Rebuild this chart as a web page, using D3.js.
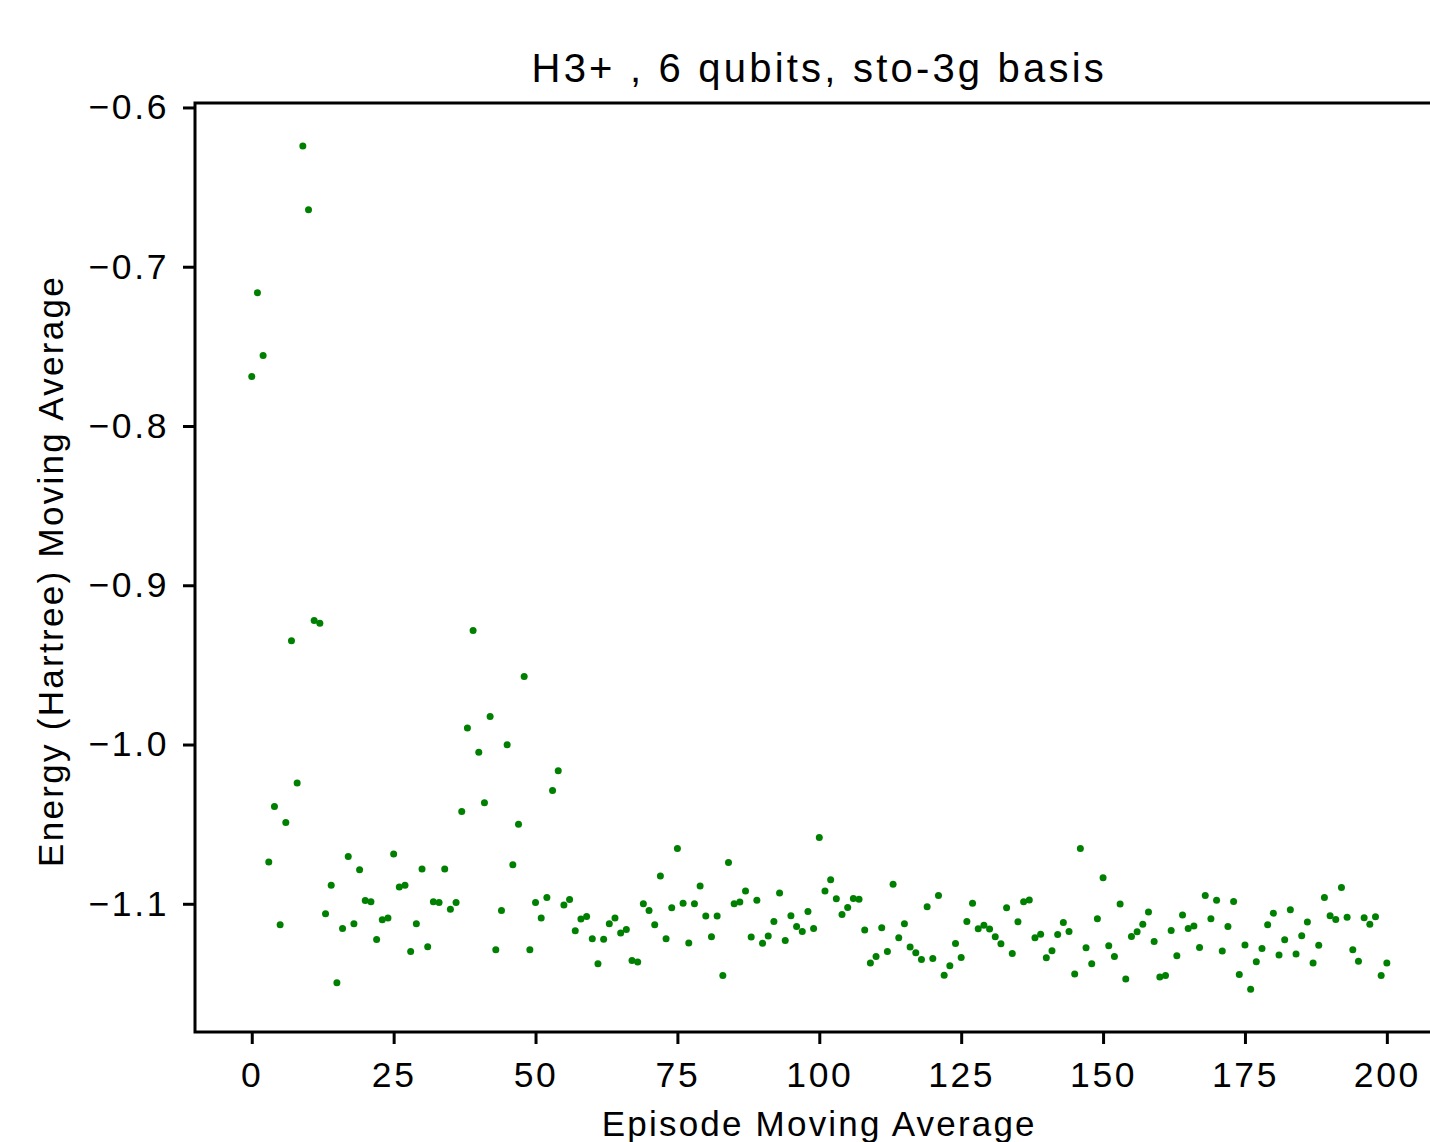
<!DOCTYPE html>
<html><head><meta charset="utf-8">
<script src="https://cdn.jsdelivr.net/npm/d3@7"></script>
<style>
html,body{margin:0;padding:0;background:#fff;}
text{font-family:"Liberation Sans",Arial,sans-serif;fill:#000;}
</style></head>
<body><svg id="chart" width="1430" height="1142"></svg>
<script>
const title = "H3+ , 6 qubits, sto-3g basis";
const xLabel = "Episode Moving Average";
const yLabel = "Energy (Hartree) Moving Average";
const xTicks = [0,25,50,75,100,125,150,175,200];
const yTicks = [-0.6,-0.7,-0.8,-0.9,-1.0,-1.1];
const energy = [
-0.769,-0.7163,-0.7557,-1.0738,-1.0389,-1.1132,-1.049,-0.9349,-1.0242,-0.6242,
-0.6643,-0.9221,-0.9238,-1.1062,-1.0884,-1.1495,-1.1155,-1.0703,-1.1125,-1.0787,
-1.0979,-1.0987,-1.1224,-1.110,-1.109,-1.0688,-1.0895,-1.0883,-1.130,-1.1125,
-1.0782,-1.127,-1.0987,-1.0992,-1.0782,-1.1035,-1.0992,-1.042,-0.9897,-0.9284,
-1.0048,-1.0366,-0.9824,-1.1289,-1.1042,-1.0002,-1.0755,-1.05,-0.9573,-1.1289,
-1.0992,-1.109,-1.096,-1.0289,-1.0165,-1.1008,-1.0973,-1.117,-1.1096,-1.108,
-1.122,-1.1377,-1.1222,-1.1125,-1.1089,-1.1184,-1.1161,-1.1356,-1.1366,-1.1000,
-1.1042,-1.1132,-1.0826,-1.122,-1.1025,-1.0653,-1.0996,-1.1246,-1.1,-1.0889,
-1.1077,-1.1207,-1.1077,-1.145,-1.0741,-1.1,-1.0989,-1.092,-1.1209,-1.0977,
-1.1247,-1.1203,-1.1111,-1.0933,-1.123,-1.1075,-1.1142,-1.1174,-1.1048,-1.1155,
-1.0584,-1.092,-1.0849,-1.0969,-1.1067,-1.1023,-1.0967,-1.0971,-1.1165,-1.1372,
-1.1331,-1.1151,-1.13,-1.0878,-1.1213,-1.1125,-1.1272,-1.1308,-1.1350,-1.1019,
-1.1343,-1.0948,-1.1448,-1.1389,-1.125,-1.1338,-1.1111,-1.0996,-1.1157,-1.1134,
-1.1159,-1.1207,-1.1251,-1.1025,-1.1312,-1.1113,-1.0987,-1.0976,-1.1213,-1.1192,
-1.1339,-1.1295,-1.1193,-1.1117,-1.1174,-1.1441,-1.0653,-1.1276,-1.1377,-1.1094,
-1.0837,-1.1264,-1.1331,-1.1002,-1.1472,-1.1205,-1.1176,-1.1128,-1.1052,-1.1237,
-1.146,-1.145,-1.1168,-1.1326,-1.1071,-1.1155,-1.114,-1.1274,-1.0948,-1.1094,
-1.0977,-1.1297,-1.1142,-1.0985,-1.1444,-1.1258,-1.1536,-1.1364,-1.128,-1.1132,
-1.1059,-1.1322,-1.1226,-1.1038,-1.1316,-1.1201,-1.1115,-1.1371,-1.1261,-1.096,
-1.1075,-1.1098,-1.0898,-1.1084,-1.1289,-1.136,-1.1088,-1.1128,-1.1082,-1.145,
-1.1371
];
const episodes = energy.map((_, i) => i);

const svg = d3.select("#chart");
const L = 195, T = 103, R = 1443.6, B = 1032;
const x = d3.scaleLinear().domain([-10, 210]).range([L, R]);
const y = d3.scaleLinear().domain([-1.1805, -0.5972]).range([B, T]);
const fmt = d => (d < 0 ? "\u2212" : "") + Math.abs(d).toFixed(1);
const FS = 35.5, LS = 2.6;

// points
svg.append("g").selectAll("circle").data(episodes).join("circle")
  .attr("cx", i => x(i)).attr("cy", i => y(energy[i]))
  .attr("r", 3.5).attr("fill", "#008000");

// x axis
const gx = svg.append("g").attr("transform", `translate(0,${B})`)
  .call(d3.axisBottom(x).tickValues(xTicks).tickSize(12).tickPadding(18).tickFormat(d3.format("d")));
gx.select(".domain").remove();
gx.selectAll(".tick line").attr("stroke", "#000").attr("stroke-width", 3);
gx.selectAll(".tick text").attr("font-size", FS).attr("letter-spacing", LS)
  .attr("font-family", "Liberation Sans, Arial, sans-serif");

// y axis
const gy = svg.append("g").attr("transform", `translate(${L},0)`)
  .call(d3.axisLeft(y).tickValues(yTicks).tickSize(12).tickPadding(14).tickFormat(fmt));
gy.select(".domain").remove();
gy.selectAll(".tick line").attr("stroke", "#000").attr("stroke-width", 3);
gy.selectAll(".tick text").attr("font-size", FS).attr("letter-spacing", LS)
  .attr("font-family", "Liberation Sans, Arial, sans-serif");

// spines
svg.append("rect").attr("x", L).attr("y", T).attr("width", R - L).attr("height", B - T)
  .attr("fill", "none").attr("stroke", "#000").attr("stroke-width", 3);

// title and labels
svg.append("text").attr("x", (L + R) / 2).attr("y", 82).attr("text-anchor", "middle")
  .attr("font-size", 40).attr("letter-spacing", 3.2).text(title);
svg.append("text").attr("x", (L + R) / 2).attr("y", 1136).attr("text-anchor", "middle")
  .attr("font-size", 35).attr("letter-spacing", 2.2).text(xLabel);
svg.append("text").attr("transform", `translate(63,571) rotate(-90)`)
  .attr("text-anchor", "middle").attr("font-size", 35).attr("letter-spacing", 2.3).text(yLabel);
</script></body></html>
